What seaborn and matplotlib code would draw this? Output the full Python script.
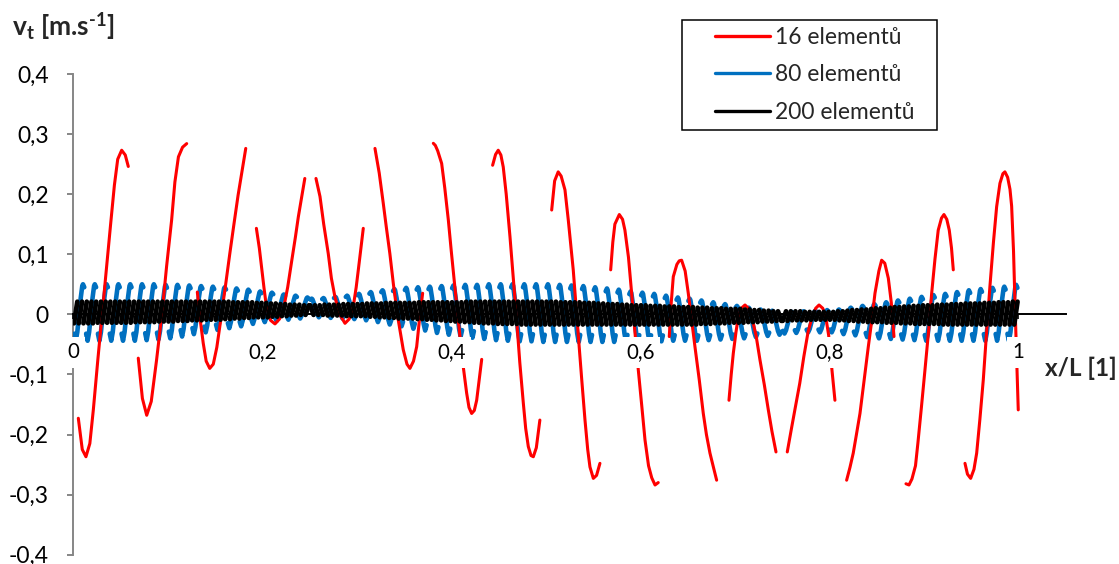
import numpy as np
import pandas as pd
import matplotlib
matplotlib.use("Agg")
import matplotlib.pyplot as plt
import seaborn as sns
from matplotlib.lines import Line2D
from matplotlib.patches import Rectangle

# ---------------- data ----------------
series_names = ["16 elementů", "80 elementů", "200 elementů"]
series_colors = ["#FF0000", "#0070C0", "#000000"]

# 16 elements: local sample position inside each element (0..1) and value v_t
red_u = [
    [0.085, 0.152, 0.214, 0.28, 0.339, 0.416, 0.488, 0.56, 0.632, 0.696, 0.752, 0.819, 0.88, 0.931],
    [0.10, 0.17, 0.243, 0.32, 0.41, 0.50, 0.58, 0.665, 0.72, 0.78, 0.85, 0.92],
    [0.10, 0.15, 0.20, 0.25, 0.31, 0.37, 0.43, 0.51, 0.58, 0.65, 0.72, 0.79, 0.86, 0.92],
    [0.10, 0.15, 0.19, 0.23, 0.27, 0.34, 0.415, 0.49, 0.555, 0.63, 0.70, 0.76, 0.81, 0.87, 0.92],
    [0.109, 0.177, 0.24, 0.317, 0.37, 0.43, 0.51, 0.60, 0.67, 0.74, 0.79, 0.826, 0.87, 0.91],
    [0.108, 0.18, 0.248, 0.30, 0.36, 0.42, 0.486, 0.587, 0.65, 0.70, 0.76, 0.814, 0.86, 0.915],
    [0.096, 0.13, 0.17, 0.237, 0.29, 0.35, 0.40, 0.46, 0.547, 0.60, 0.66, 0.70, 0.745, 0.79, 0.83, 0.915],
    [0.10, 0.15, 0.195, 0.24, 0.28, 0.33, 0.394, 0.45, 0.507, 0.56, 0.62, 0.66, 0.704, 0.75, 0.789, 0.84, 0.90],
    [0.10, 0.15, 0.21, 0.26, 0.325, 0.381, 0.465, 0.523, 0.61, 0.664, 0.71, 0.748, 0.805, 0.86, 0.917],
    [0.099, 0.135, 0.17, 0.245, 0.30, 0.34, 0.40, 0.454, 0.51, 0.567, 0.625, 0.68, 0.74, 0.794, 0.85, 0.904],
    [0.091, 0.125, 0.159, 0.22, 0.26, 0.30, 0.36, 0.413, 0.47, 0.526, 0.60, 0.667, 0.72, 0.78, 0.84, 0.893],
    [0.102, 0.14, 0.175, 0.22, 0.26, 0.31, 0.373, 0.43, 0.486, 0.56, 0.627, 0.70, 0.768, 0.83, 0.898],
    [0.089, 0.16, 0.225, 0.30, 0.37, 0.44, 0.51, 0.57, 0.627, 0.69, 0.74, 0.79, 0.84, 0.896],
    [0.094, 0.15, 0.206, 0.26, 0.32, 0.39, 0.461, 0.52, 0.574, 0.64, 0.687, 0.74, 0.80, 0.85, 0.896],
    [0.099, 0.15, 0.20, 0.26, 0.30, 0.36, 0.42, 0.48, 0.534, 0.59, 0.645, 0.70, 0.742, 0.79, 0.832, 0.87, 0.90],
    [0.098, 0.14, 0.194, 0.25, 0.296, 0.35, 0.408, 0.46, 0.52, 0.58, 0.634, 0.69, 0.74, 0.774, 0.82, 0.86, 0.888, 0.92, 0.95, 0.975, 1.0],
]
red_v = [
    [-0.173, -0.225, -0.237, -0.215, -0.159, -0.075, 0.0, 0.075, 0.15, 0.215, 0.258, 0.273, 0.265, 0.246],
    [-0.073, -0.14, -0.168, -0.145, -0.076, 0.0, 0.08, 0.157, 0.22, 0.262, 0.278, 0.284],
    [0.037, -0.01, -0.048, -0.078, -0.090, -0.083, -0.055, 0.0, 0.05, 0.101, 0.15, 0.198, 0.24, 0.276],
    [0.143, 0.11, 0.0765, 0.043, 0.013, -0.01, -0.016, -0.008, 0.007, 0.045, 0.090, 0.128, 0.162, 0.197, 0.226],
    [0.226, 0.196, 0.15, 0.101, 0.06, 0.029, 0.0, -0.015, -0.008, 0.0126, 0.045, 0.074, 0.11, 0.143],
    [0.276, 0.235, 0.185, 0.145, 0.101, 0.05, 0.0, -0.059, -0.083, -0.090, -0.078, -0.054, -0.01, 0.035],
    [0.2845, 0.281, 0.272, 0.251, 0.21, 0.157, 0.105, 0.046, -0.037, -0.085, -0.131, -0.155, -0.165, -0.16, -0.143, -0.075],
    [0.248, 0.266, 0.273, 0.265, 0.245, 0.20, 0.129, 0.06, -0.0095, -0.08, -0.148, -0.19, -0.220, -0.235, -0.237, -0.222, -0.176],
    [0.1735, 0.222, 0.237, 0.230, 0.207, 0.157, 0.074, 0.0, -0.11, -0.176, -0.225, -0.254, -0.273, -0.268, -0.248],
    [0.074, 0.12, 0.150, 0.166, 0.158, 0.140, 0.095, 0.035, -0.03, -0.093, -0.152, -0.209, -0.252, -0.272, -0.284, -0.280],
    [-0.037, 0.02, 0.0626, 0.083, 0.089, 0.090, 0.072, 0.035, -0.01, -0.054, -0.11, -0.165, -0.20, -0.231, -0.255, -0.276],
    [-0.143, -0.10, -0.065, -0.03, -0.004, 0.01, 0.0155, 0.01, -0.004, -0.035, -0.076, -0.117, -0.159, -0.195, -0.229],
    [-0.229, -0.19, -0.155, -0.115, -0.07, -0.03, -0.004, 0.01, 0.0155, 0.01, -0.004, -0.035, -0.087, -0.143],
    [-0.276, -0.255, -0.231, -0.20, -0.165, -0.11, -0.054, -0.01, 0.035, 0.072, 0.090, 0.085, 0.060, 0.02, -0.037],
    [-0.282, -0.284, -0.274, -0.252, -0.215, -0.155, -0.093, -0.03, 0.035, 0.092, 0.140, 0.160, 0.166, 0.158, 0.140, 0.11, 0.074],
    [-0.248, -0.266, -0.273, -0.258, -0.231, -0.175, -0.109, -0.035, 0.046, 0.12, 0.179, 0.218, 0.234, 0.237, 0.228, 0.208, 0.180, 0.105, 0.0, -0.08, -0.159],
]

# 80 elements: highest and lowest value inside each element
blue_top = [
    .050, .050, .050, .050, .050, .050, .050, .049, .049, .048, .047, .046, .045, .043, .041, .038,
    .036, .033, .031, .028, .026, .027, .029, .031, .034, .037, .040, .042, .044, .045, .046, .047,
    .048, .049, .049, .050, .050, .050, .050, .050, .050, .049, .048, .047, .045, .043, .041, .038,
    .036, .034, .031, .028, .026, .023, .020, .017, .014, .011, .008, .006, .004, .005, .006, .007,
    .008, .011, .014, .017, .020, .023, .026, .029, .032, .034, .037, .040, .042, .044, .046, .049,
]
blue_bot = [
    -.044, -.044, -.044, -.044, -.044, -.044, -.043, -.042, -.040, -.037, -.033, -.030, -.026, -.023, -.020, -.016,
    -.013, -.011, -.009, -.007, -.005, -.006, -.007, -.008, -.010, -.013, -.017, -.020, -.024, -.027, -.031, -.034,
    -.037, -.039, -.041, -.043, -.044, -.045, -.045, -.046, -.046, -.046, -.046, -.046, -.046, -.046, -.045, -.045,
    -.045, -.045, -.044, -.044, -.044, -.043, -.042, -.041, -.040, -.038, -.036, -.034, -.032, -.031, -.030, -.030,
    -.030, -.033, -.035, -.038, -.040, -.041, -.042, -.043, -.044, -.044, -.044, -.044, -.044, -.044, -.044, -.044,
]
# shape of one element stroke (local position, fraction between low and high)
blue_shape_u = [0.085, 0.21, 0.34, 0.49, 0.63, 0.76, 0.82, 0.93]
blue_shape_p = [0.125, 0.0, 0.153, 0.465, 0.759, 0.971, 1.0, 0.947]

# 200 elements: highest and lowest value inside each element
black_top = (
    [.021] * 30
    + [.021, .021, .021, .020, .020, .020, .020, .020, .019, .019]
    + [.019, .018, .018, .017, .017, .016, .016, .016, .015, .015]
    + [.015, .015, .015, .016, .016, .016, .016, .017, .017, .017]
    + [.017, .017, .018, .018, .018, .018, .019, .019, .019, .019]
    + [.019, .019, .019, .020, .020, .020, .020, .020, .020, .020]
    + [.020, .020, .020, .021, .021, .021, .021, .021, .021, .021]
    + [.021] * 10
    + [.021, .021, .021, .020, .020, .020, .020, .020, .019, .019]
    + [.019, .018, .018, .017, .017, .017, .016, .016, .015, .015]
    + [.015, .015, .014, .014, .014, .013, .013, .013, .012, .012]
    + [.012, .012, .011, .011, .011, .010, .010, .010, .009, .009]
    + [.009, .009, .008, .008, .007, .007, .006, .006, .005, .005]
    + [.005, .005, .005, .005, .004, .004, .004, .004, .004, .004]
    + [.004, .005, .005, .006, .007, .007, .008, .008, .009, .010]
    + [.010, .011, .011, .012, .012, .013, .013, .014, .014, .015]
    + [.015, .015, .016, .016, .016, .017, .017, .017, .018, .018]
    + [.018, .018, .019, .019, .019, .020, .020, .020, .021, .021]
)
black_bot = (
    [-.015, -.015, -.015, -.015, -.015, -.014, -.014, -.014, -.014, -.014]
    + [-.014, -.014, -.014, -.013, -.013, -.013, -.013, -.013, -.012, -.012]
    + [-.012, -.012, -.011, -.011, -.011, -.010, -.010, -.010, -.009, -.009]
    + [-.009, -.009, -.008, -.008, -.007, -.007, -.006, -.006, -.005, -.005]
    + [-.005, -.005, -.004, -.004, -.003, -.003, -.002, -.002, -.001, -.001]
    + [-.001, -.001, -.001, -.002, -.002, -.002, -.002, -.003, -.003, -.003]
    + [-.003, -.003, -.004, -.004, -.005, -.005, -.006, -.006, -.007, -.007]
    + [-.007, -.007, -.008, -.008, -.009, -.009, -.010, -.010, -.011, -.011]
    + [-.012, -.012, -.013, -.013, -.014, -.014, -.015, -.015, -.015, -.016]
    + [-.016, -.016, -.016, -.016, -.017, -.017, -.017, -.017, -.017, -.017]
    + [-.017] * 30
    + [-.017, -.017, -.016, -.016, -.016, -.015, -.015, -.015, -.014, -.014]
    + [-.014, -.014, -.013, -.013, -.013, -.012, -.012, -.012, -.011, -.011]
    + [-.011, -.011, -.010, -.010, -.010, -.010, -.009, -.009, -.009, -.009]
    + [-.009, -.009, -.010, -.010, -.011, -.011, -.012, -.012, -.013, -.013]
    + [-.013, -.013, -.014, -.014, -.014, -.015, -.015, -.015, -.016, -.016]
    + [-.016, -.016, -.016, -.016, -.017, -.017, -.017, -.017, -.017, -.017]
    + [-.017] * 10
)
black_shape_u = [0.15, 0.85]
black_shape_p = [0.0, 1.0]

x_ticks = [0, 0.2, 0.4, 0.6, 0.8, 1.0]
x_tick_labels = ["0", "0,2", "0,4", "0,6", "0,8", "1"]
y_ticks = [-0.4, -0.3, -0.2, -0.1, 0, 0.1, 0.2, 0.3, 0.4]
y_tick_labels = ["-0,4", "-0,3", "-0,2", "-0,1", "0", "0,1", "0,2", "0,3", "0,4"]


# ---------------- build tables ----------------
def red_frame():
    rows = []
    n = len(red_v)
    for k, (us, vs) in enumerate(zip(red_u, red_v)):
        for u, v in zip(us, vs):
            rows.append(((k + u) / n, v, k))
    return pd.DataFrame(rows, columns=["x", "v", "seg"])


def osc_frame(tops, bots, shape_u, shape_p):
    rows = []
    n = len(tops)
    for k, (t, b) in enumerate(zip(tops, bots)):
        xc = (k + 0.5) / n
        falling = 0.25 < xc < 0.75
        for u, p in zip(shape_u, shape_p):
            uu = 1 - u if falling else u
            rows.append(((k + uu) / n, b + (t - b) * p, k))
    return pd.DataFrame(rows, columns=["x", "v", "seg"]).sort_values(["seg", "x"])


df_red = red_frame()
df_blue = osc_frame(blue_top, blue_bot, blue_shape_u, blue_shape_p)
df_black = osc_frame(black_top, black_bot, black_shape_u, black_shape_p)

# ---------------- plot ----------------
sns.set_style("white")
plt.rcParams["font.family"] = ["Lato", "DejaVu Sans"]
plt.rcParams["mathtext.fontset"] = "custom"
plt.rcParams["mathtext.rm"] = "Lato"
plt.rcParams["mathtext.bf"] = "Lato:bold"
plt.rcParams["mathtext.it"] = "Lato:italic"

W, H = 1119, 564
fig = plt.figure(figsize=(W / 100, H / 100), dpi=100)
ax = fig.add_axes([73.3 / W, 1 - 554.7 / H, (1065.5 - 73.3) / W, (554.7 - 73.9) / H])

common = dict(x="x", y="v", units="seg", estimator=None, sort=False, ax=ax, legend=False,
              solid_capstyle="round", solid_joinstyle="round")
sns.lineplot(data=df_blue, color=series_colors[1], linewidth=3.3, zorder=3, **common)
sns.lineplot(data=df_red, color=series_colors[0], linewidth=2.2, zorder=4, **common)
sns.lineplot(data=df_black, color=series_colors[2], linewidth=3.4, zorder=5, **common)

ax.set_xlim(0, 1.05)
ax.set_ylim(-0.4, 0.4)
ax.set_xlabel("")
ax.set_ylabel("")

for s in ["top", "right"]:
    ax.spines[s].set_visible(False)
ax.spines["left"].set_color("#868686")
ax.spines["left"].set_linewidth(1.4)
ax.spines["bottom"].set_position(("data", 0))
ax.spines["bottom"].set_color("black")
ax.spines["bottom"].set_linewidth(1.4)
ax.spines["bottom"].set_zorder(2.5)

ax.set_xticks(x_ticks)
ax.set_xticklabels(x_tick_labels)
ax.set_yticks(y_ticks)
ax.set_yticklabels(y_tick_labels)
ax.tick_params(axis="y", direction="out", length=4.3, width=1.4, color="#868686",
               pad=13.5, labelsize=16.5, labelcolor="black", left=True)
ax.tick_params(axis="x", direction="out", length=3.6, width=1.2, color="black",
               pad=16.5, labelsize=14.8, labelcolor="black", bottom=True)
for lbl in ax.get_xticklabels():
    lbl.set_bbox(dict(facecolor="white", edgecolor="none", pad=4))
for lbl in ax.get_yticklabels():
    lbl.set_verticalalignment("center_baseline")
ax.xaxis.set_zorder(6)

# axis titles
y_title = "$\\mathbf{v_t}$ [m.s$^{\\mathbf{\u20101}}$]"
fig.text(12 / W, 1 - 26 / H, y_title,
         fontsize=19, fontweight="bold", ha="left", va="center")
fig.text(1117 / W, 1 - 368 / H, "x/L [1]", fontsize=17.5, fontweight="bold",
         ha="right", va="center")

# legend
handles = [Line2D([0], [0], color=c, lw=2.4) for c in series_colors]
fig.legend(handles, series_names, loc="upper left", bbox_to_anchor=(715 / W, 1 - 27 / H),
           frameon=False, borderpad=0, borderaxespad=0, handlelength=55 / 22.8,
           handletextpad=5 / 22.8, labelspacing=0.72, fontsize=16.4)
fig.add_artist(Rectangle((682 / W, 1 - 130 / H), 255 / W, 110 / H, transform=fig.transFigure,
                         fill=False, edgecolor="black", linewidth=1.1))

fig.savefig("out.png", dpi=100, facecolor="white")
